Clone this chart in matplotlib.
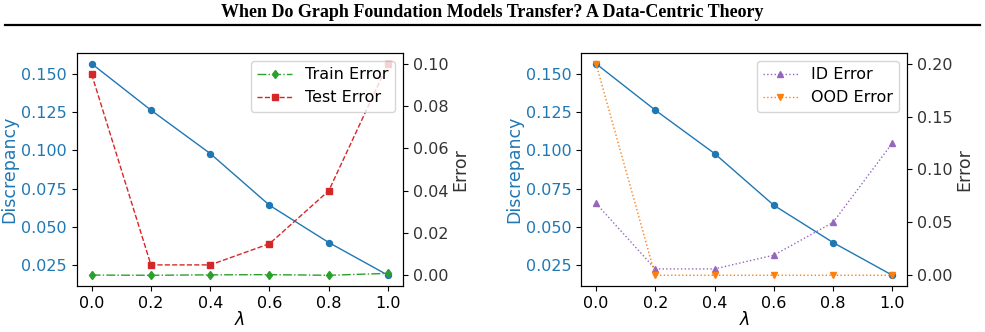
import numpy as np
import matplotlib
matplotlib.use("Agg")
import matplotlib.pyplot as plt

lam = [0.0, 0.2, 0.4, 0.6, 0.8, 1.0]
discrepancy = [0.157, 0.1265, 0.098, 0.064, 0.0395, 0.018]
train_err = [0.0002, 0.0001, 0.0003, 0.0004, 0.0001, 0.0010]
test_err = [0.095, 0.005, 0.005, 0.015, 0.040, 0.100]
id_err = [0.068, 0.006, 0.006, 0.019, 0.050, 0.125]
ood_err = [0.200, 0.0, 0.0, 0.0, 0.0, 0.0]

title = "When Do Graph Foundation Models Transfer? A Data-Centric Theory"

fig = plt.figure(figsize=(9.85, 3.32), dpi=100)
fig.text(0.5, 0.962, title, ha="center", va="center", fontsize=13,
         fontweight="bold", family="Liberation Serif")
fig.add_artist(plt.Line2D([0.005, 0.995], [0.924, 0.924], color="black", lw=1.6))

tick_fs = 11.5
label_fs = 12.5
blue = "tab:blue"


def panel(rect, series):
    ax = fig.add_axes(rect)
    ax.plot(lam, discrepancy, "-o", color=blue, lw=1, ms=4.3)
    ax.set_ylabel("Discrepancy", color=blue, fontsize=label_fs, labelpad=2)
    ax.set_xlabel(r"$\lambda$", fontsize=label_fs, labelpad=0)
    ax.tick_params(axis="y", labelcolor=blue, labelsize=tick_fs)
    ax.tick_params(axis="x", labelsize=tick_fs)
    ax.set_xticks(lam)
    ax2 = ax.twinx()
    for vals, fmt, col, lab in series:
        ax2.plot(lam, vals, fmt, color=col, lw=1, ms=4.3, label=lab)
    ax2.set_ylabel("Error", color="#333333", fontsize=label_fs, labelpad=2)
    ax2.tick_params(axis="y", labelcolor="#333333", labelsize=tick_fs)
    ax2.legend(loc="upper right", fontsize=11.5, handlelength=2.2)
    return ax, ax2


panel([0.078, 0.139, 0.331, 0.701], [
    (train_err, "-.d", "tab:green", "Train Error"),
    (test_err, "--s", "tab:red", "Test Error"),
])
ax, ax2 = panel([0.590, 0.139, 0.331, 0.701], [
    (id_err, ":^", "tab:purple", "ID Error"),
    (ood_err, ":v", "tab:orange", "OOD Error"),
])
ax2.set_yticks([0.0, 0.05, 0.10, 0.15, 0.20])

fig.savefig("out.png", dpi=100)
